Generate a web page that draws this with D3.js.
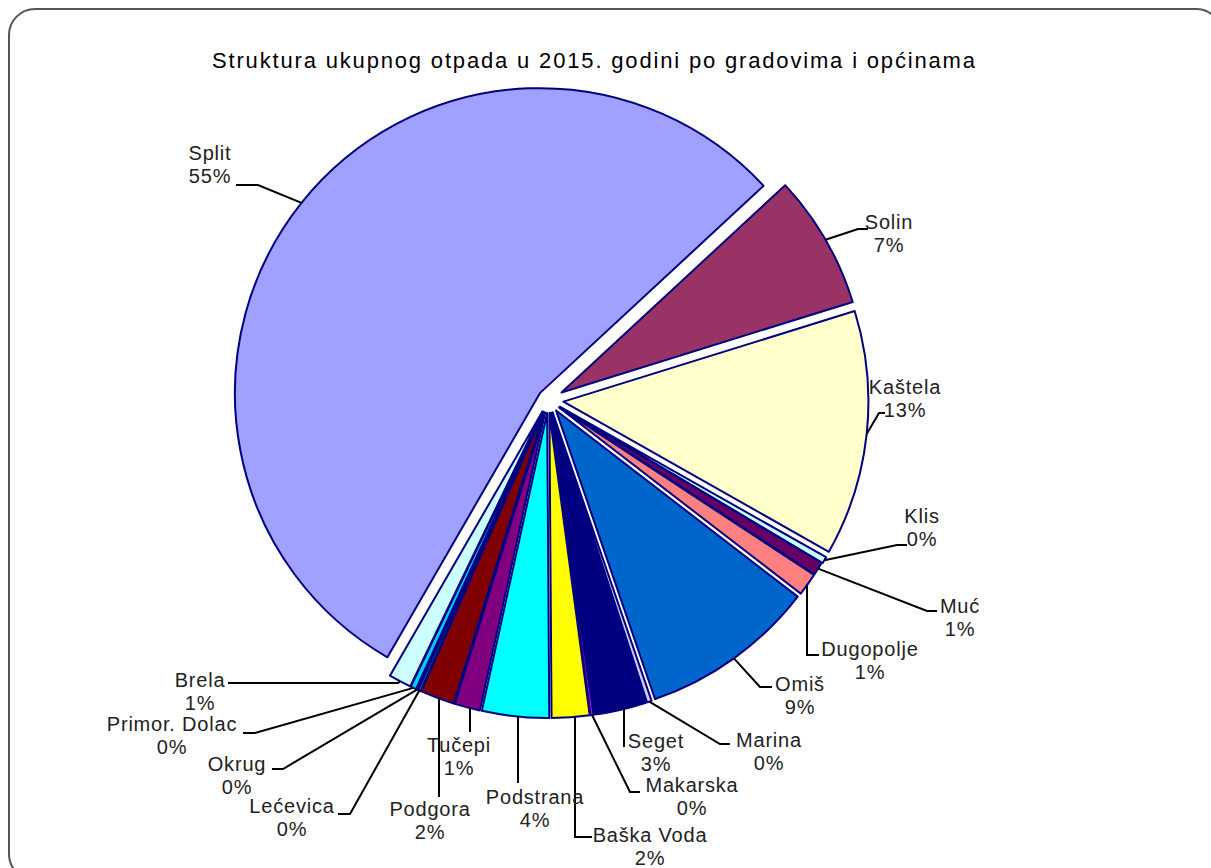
<!DOCTYPE html>
<html><head><meta charset="utf-8">
<script src="https://cdn.jsdelivr.net/npm/d3@7"></script>
<style>body{margin:0;background:#fff}svg{display:block}</style>
</head><body>
<script>
// ---- data ----
const cities = ["Split","Solin","Kaštela","Klis","Muć","Dugopolje","Omiš","Marina","Seget","Makarska","Baška Voda","Podstrana","Tučepi","Podgora","Lećevica","Okrug","Primor. Dolac","Brela"];
const shares = [54.8, 7.1, 13.0, 0.35, 0.7, 1.2, 9.3, 0.25, 2.75, 0.15, 2.0, 3.55, 1.35, 1.8, 0.15, 0.1, 0.3, 1.2];
const colors = ["#A0A0FF","#993366","#FFFFCC","#CCFFFF","#660066","#FF8080","#0066CC","#CCCCFF","#000080","#FF00FF","#FFFF00","#00FFFF","#800080","#800000","#008080","#0000FF","#00CCFF","#CCFFFF"];
const title = "Struktura ukupnog otpada u 2015. godini po gradovima i općinama";

// ---- layout ----
const W = 1211, H = 868;
const cx = 548.5, cy = 400, R = 305;
const firstSliceAngle = 210; // degrees, clockwise from 12 o'clock
const explode = [11,15,15,14,13,13,13,13,13,13,13,13,13,13,13,13,13,13];
const labelPos = [[210,153],[889,222],[905,387],[922,516],[960,606],[870,649],[800,684],[769,740],[656,741],[692,785],[650,835],[535,797],[459,745],[430,809],[292,806],[237,764],[172,724],[200,680]];
const knees = [[258,185],[858,229],[879,413],[897,545],[927,611],[807,655],[760,687],[720,744],[624,747],[630,792],[575,837],[518,783],[470,732],[439,797],[350,814],[283,769],[255,733],[398,683]];
const ends  = [[236,185],[868,229],[885,413],[907,545],[937,611],[819,655],[772,687],[730,744],[624,747],[640,792],[592,837],[518,783],[470,732],[439,797],[338,814],[272,769],[243,733],[228,683]];
const vertical = [0,0,0,0,0,1,0,0,1,0,1,1,1,1,0,0,0,0];

const svg = d3.select("body").append("svg").attr("width", W).attr("height", H);

// frame
svg.append("rect").attr("x",9).attr("y",9).attr("width",1213).attr("height",871)
  .attr("rx",26).attr("ry",26).attr("fill","#fff").attr("stroke","#555").attr("stroke-width",2);

// title
svg.append("text").attr("x",593.5).attr("y",60).attr("dy","0.35em")
  .attr("text-anchor","middle").attr("font-family","Liberation Sans, Arial, sans-serif")
  .attr("font-size",22).attr("fill","#000")
  .attr("textLength",763).attr("lengthAdjust","spacing").text(title);

const total = d3.sum(shares);
const data = cities.map((c,i)=>({name:c, v:shares[i], i}));
const a0 = firstSliceAngle*Math.PI/180;
const pie = d3.pie().sort(null).value(d=>d.v).startAngle(a0).endAngle(a0+2*Math.PI);
const arcs = pie(data);
const arcGen = d3.arc().innerRadius(0).outerRadius(R);

const g = svg.append("g").attr("transform",`translate(${cx},${cy})`);
arcs.forEach(a=>{
  const m = (a.startAngle+a.endAngle)/2;
  a.ox = explode[a.data.i]*Math.sin(m);
  a.oy = -explode[a.data.i]*Math.cos(m);
  a.mid = m;
});
g.selectAll("path.slice").data(arcs).join("path").attr("class","slice")
  .attr("transform",a=>`translate(${a.ox},${a.oy})`)
  .attr("d",arcGen)
  .attr("fill",a=>colors[a.data.i])
  .attr("stroke","#000080").attr("stroke-width",2).attr("stroke-linejoin","round");

// leader lines
const leaders = svg.append("g");
arcs.forEach(a=>{
  const i = a.data.i;
  const ccx = cx + a.ox, ccy = cy + a.oy;
  let sx, sy;
  if (vertical[i]) {
    sx = knees[i][0];
    sy = ccy + Math.sqrt(Math.max(0, R*R - (sx-ccx)*(sx-ccx)));
  } else {
    sx = ccx + R*Math.sin(a.mid);
    sy = ccy - R*Math.cos(a.mid);
  }
  const pts = [[sx,sy], knees[i], ends[i]];
  leaders.append("path").attr("d", d3.line()(pts))
    .attr("fill","none").attr("stroke","#000").attr("stroke-width",2);
});

// labels
const lab = svg.append("g").attr("font-family","Liberation Sans, Arial, sans-serif")
  .attr("font-size",20).attr("fill","#222").attr("text-anchor","middle")
  .style("letter-spacing","0.8px");
arcs.forEach(a=>{
  const i = a.data.i;
  const [x,y] = labelPos[i];
  const t = lab.append("text");
  t.append("tspan").attr("x",x).attr("y",y).attr("dy","0.35em").text(cities[i]);
  t.append("tspan").attr("x",x).attr("y",y+23).attr("dy","0.35em").text(Math.round(shares[i]/total*100)+"%");
});
</script>
</body></html>
